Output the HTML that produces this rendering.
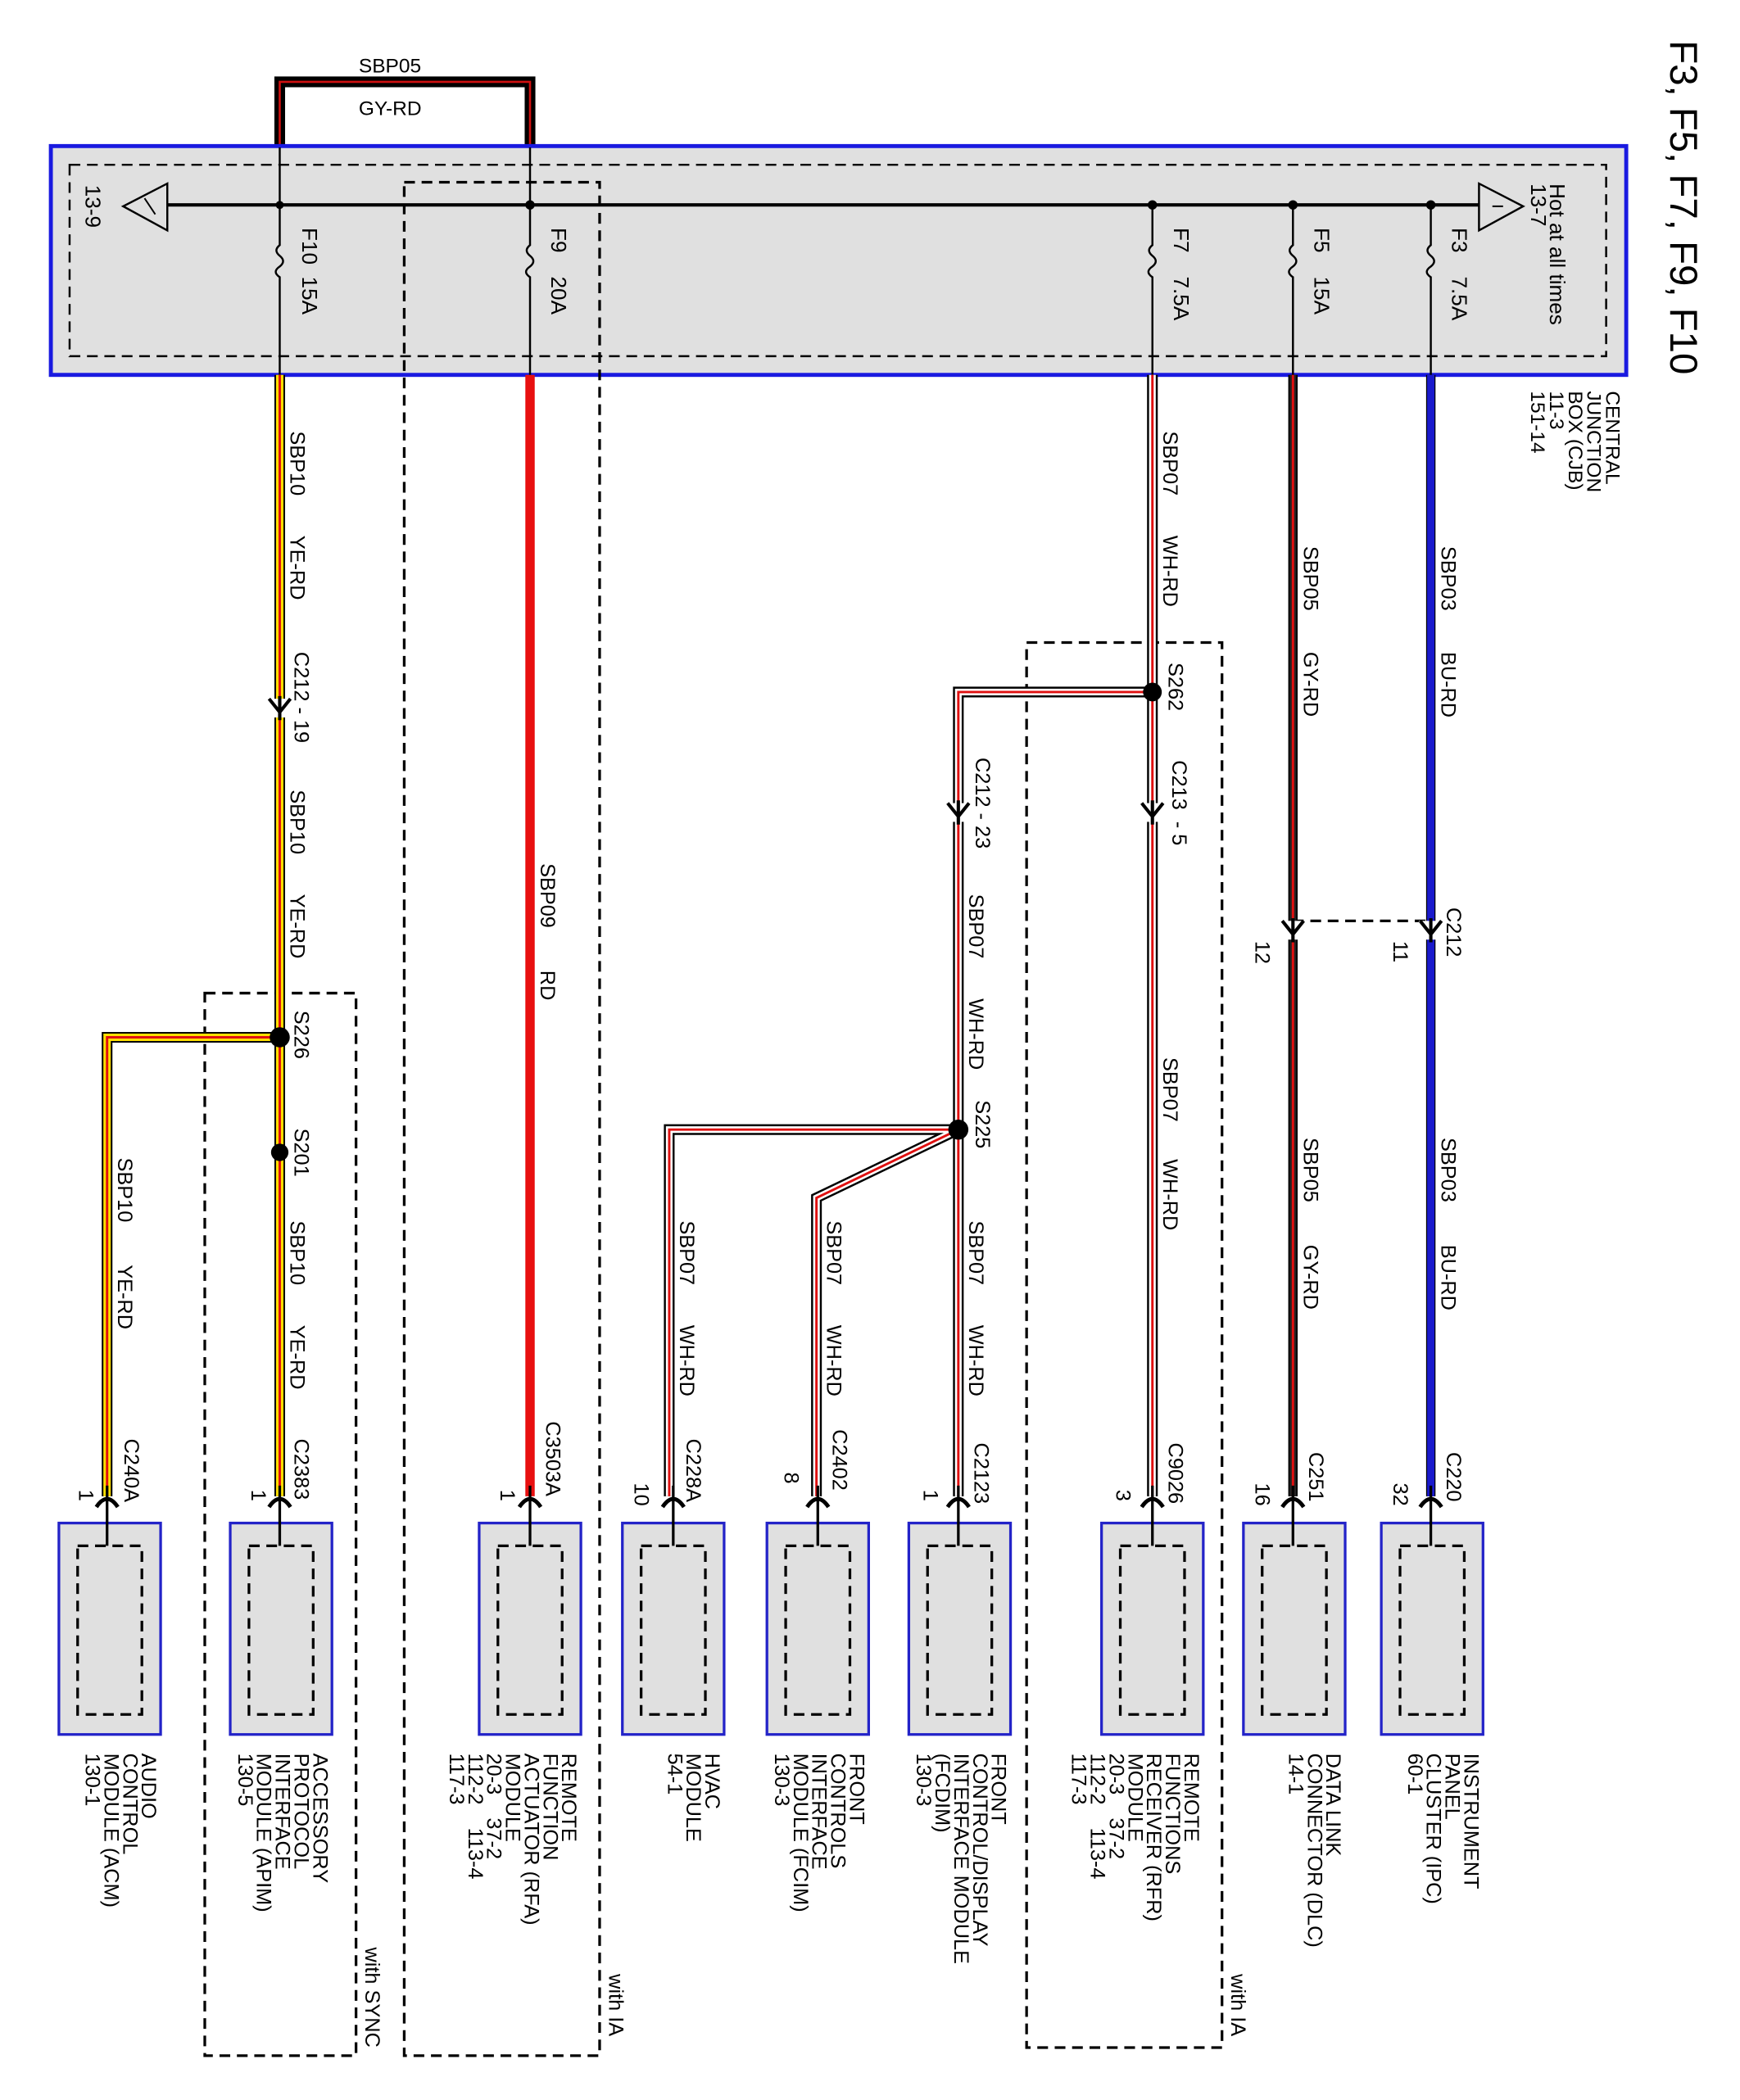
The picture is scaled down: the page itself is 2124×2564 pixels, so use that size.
<!DOCTYPE html>
<html><head><meta charset="utf-8"><style>
html,body{margin:0;padding:0;background:#fff}
svg{display:block}
text{font-family:"Liberation Sans",Arial,sans-serif;fill:#000;white-space:pre}
.ol{fill:none;stroke:#000;stroke-width:8}
.ye{fill:none;stroke:#ffe000;stroke-width:5.5}
.wh{fill:none;stroke:#fff;stroke-width:5}
.gy{fill:none;stroke:#222;stroke-width:5}
.bu{fill:none;stroke:#1a1acc;stroke-width:5.5}
.rd{fill:none;stroke:#e01010;stroke-width:1.8}
.dash{fill:none;stroke:#000;stroke-width:2;stroke-dasharray:8 5}
.mod{fill:#e0e0e0;stroke:#2323c8;stroke-width:2}
.fork{fill:none;stroke:#000;stroke-width:2.5}
</style></head><body>
<svg width="2124" height="2564" viewBox="0 0 1300 1569" xmlns="http://www.w3.org/2000/svg" font-size="15" xml:space="preserve">
<rect width="1300" height="1569" fill="#fff"/>

<path d="M209 110 V61 H396 V110" fill="none" stroke="#000" stroke-width="8"/>
<path d="M209 110 V61 H396 V110" fill="none" stroke="#d01010" stroke-width="1.6"/>
<text x="268" y="54">SBP05</text>
<text x="268" y="86">GY-RD</text>

<rect x="38" y="109" width="1177" height="171" fill="#e0e0e0" stroke="#1a1ae0" stroke-width="3"/>
<rect x="52" y="123" width="1148" height="143" class="dash" style="stroke-width:1.5"/>
<line x1="125" y1="153" x2="1105" y2="153" stroke="#000" stroke-width="2.5"/>
<polygon points="125,137 125,172 92,154" fill="none" stroke="#000" stroke-width="1.5"/>
<line x1="108" y1="148" x2="116" y2="160" stroke="#000" stroke-width="1.2"/>
<polygon points="1105,137 1105,172 1138,154" fill="none" stroke="#000" stroke-width="1.5"/>
<line x1="1115" y1="154" x2="1123" y2="154" stroke="#000" stroke-width="1.2"/>
<g fill="#000"><circle cx="209" cy="153" r="3"/><circle cx="396" cy="153" r="3.5"/><circle cx="861" cy="153" r="3.5"/><circle cx="966" cy="153" r="3.5"/><circle cx="1069" cy="153" r="3.5"/></g>
<g fill="none" stroke="#000" stroke-width="1.5">
<path d="M209 153 V183 q-5 4 0 8 q5 4 0 8 q-6 4 0 8 V280"/>
<path d="M396 110 V183 q-5 4 0 8 q5 4 0 8 q-6 4 0 8 V280"/>
<path d="M861 153 V183 q-5 4 0 8 q5 4 0 8 q-6 4 0 8 V280"/>
<path d="M966 153 V183 q-5 4 0 8 q5 4 0 8 q-6 4 0 8 V280"/>
<path d="M1069 153 V183 q-5 4 0 8 q5 4 0 8 q-6 4 0 8 V280"/>
<line x1="209" y1="110" x2="209" y2="153"/>
</g>
<g font-size="16">
<text transform="translate(64 138) rotate(90)">13-9</text>
<text transform="translate(226 170) rotate(90)">F10  15A</text>
<text transform="translate(412 170) rotate(90)">F9    20A</text>
<text transform="translate(877 170) rotate(90)">F7    7.5A</text>
<text transform="translate(982 170) rotate(90)">F5    15A</text>
<text transform="translate(1085 170) rotate(90)">F3    7.5A</text>
<text transform="translate(1158 137) rotate(90)">Hot at all times</text>
<text transform="translate(1144 137) rotate(90)">13-7</text>
</g>
<text transform="translate(1248 30) rotate(90)" font-size="29">F3, F5, F7, F9, F10</text>
<g font-size="15">
<text transform="translate(1200 292) rotate(90)">CENTRAL</text>
<text transform="translate(1186 292) rotate(90)">JUNCTION</text>
<text transform="translate(1172 292) rotate(90)">BOX (CJB)</text>
<text transform="translate(1158 292) rotate(90)">11-3</text>
<text transform="translate(1144 292) rotate(90)">151-14</text>
</g>

<rect x="302" y="136" width="146" height="1400" class="dash"/>
<rect x="153" y="742" width="113" height="794" class="dash"/>
<rect x="767" y="480" width="146" height="1050" class="dash"/>
<path d="M966 688 H1069" class="dash"/>

<g class="ol">
<path d="M209 280 V1118"/><path d="M209 775 H80 V1118"/>
<path d="M861 280 V1118"/><path d="M861 517 H716 V1118"/>
<path d="M716 844 H500 V1118"/><path d="M716 844 L610 895 V1118"/>
<path d="M966 280 V1118" style="stroke-width:7"/>
<path d="M1069 280 V1118" style="stroke-width:7"/>
</g>
<path d="M209 280 V1118 M209 775 H80 V1118" class="ye"/>
<path d="M861 280 V1118 M861 517 H716 V1118 M716 844 H500 V1118 M716 844 L610 895 V1118" class="wh"/>
<path d="M966 280 V1118" class="gy"/>
<path d="M1069 280 V1118" class="bu"/>
<path d="M209 280 V1118 M209 775 H80 V1118 M861 280 V1118 M861 517 H716 V1118 M716 844 H500 V1118 M716 844 L610 895 V1118 M966 280 V1118" class="rd"/>
<path d="M396 280 V1118" fill="none" stroke="#e81010" stroke-width="7"/>

<g>
<rect x="200" y="522" width="18" height="14" fill="#fff"/>
<rect x="707" y="600" width="18" height="14" fill="#fff"/>
<rect x="852" y="600" width="18" height="14" fill="#fff"/>
<rect x="957" y="688" width="18" height="14" fill="#fff"/>
<rect x="1060" y="688" width="18" height="14" fill="#fff"/>
</g>
<g class="fork">
<path d="M201 522 L209 532 L217 522 M209 520 V538"/>
<path d="M708 600 L716 610 L724 600 M716 598 V616"/>
<path d="M853 600 L861 610 L869 600 M861 598 V616"/>
<path d="M958 688 L966 698 L974 688 M966 686 V704"/>
<path d="M1061 688 L1069 698 L1077 688 M1069 686 V704"/>
</g>

<g fill="#000">
<circle cx="861" cy="517" r="7"/><circle cx="716" cy="844" r="7.5"/>
<circle cx="209" cy="775" r="7.5"/><circle cx="209" cy="861" r="6.5"/>
</g>

<g>
<rect x="44" y="1138" width="76" height="158" class="mod"/>
<rect x="172" y="1138" width="76" height="158" class="mod"/>
<rect x="358" y="1138" width="76" height="158" class="mod"/>
<rect x="465" y="1138" width="76" height="158" class="mod"/>
<rect x="573" y="1138" width="76" height="158" class="mod"/>
<rect x="679" y="1138" width="76" height="158" class="mod"/>
<rect x="823" y="1138" width="76" height="158" class="mod"/>
<rect x="929" y="1138" width="76" height="158" class="mod"/>
<rect x="1032" y="1138" width="76" height="158" class="mod"/>
</g>
<g class="dash" style="stroke-width:2">
<rect x="58" y="1155" width="48" height="126"/>
<rect x="186" y="1155" width="48" height="126"/>
<rect x="372" y="1155" width="48" height="126"/>
<rect x="479" y="1155" width="48" height="126"/>
<rect x="587" y="1155" width="48" height="126"/>
<rect x="693" y="1155" width="48" height="126"/>
<rect x="837" y="1155" width="48" height="126"/>
<rect x="943" y="1155" width="48" height="126"/>
<rect x="1046" y="1155" width="48" height="126"/>
</g>
<g fill="none" stroke="#000" stroke-width="2">
<path d="M80 1110 V1155 M209 1110 V1155 M396 1110 V1155 M503 1110 V1155 M611 1110 V1155 M716 1110 V1155 M861 1110 V1155 M966 1110 V1155 M1069 1110 V1155"/>
</g>
<g class="fork" style="stroke-width:3">
<path d="M72 1126 Q80 1114 88 1126"/><path d="M201 1126 Q209 1114 217 1126"/>
<path d="M388 1126 Q396 1114 404 1126"/><path d="M495 1126 Q503 1114 511 1126"/>
<path d="M603 1126 Q611 1114 619 1126"/><path d="M708 1126 Q716 1114 724 1126"/>
<path d="M853 1126 Q861 1114 869 1126"/><path d="M958 1126 Q966 1114 974 1126"/>
<path d="M1061 1126 Q1069 1114 1077 1126"/>
</g>

<g font-size="15.5">
<text transform="translate(217 322) rotate(90)">SBP10</text>
<text transform="translate(217 400) rotate(90)">YE-RD</text>
<text transform="translate(220 487) rotate(90)">C212 - 19</text>
<text transform="translate(217 590) rotate(90)">SBP10</text>
<text transform="translate(217 668) rotate(90)">YE-RD</text>
<text transform="translate(220 755) rotate(90)">S226</text>
<text transform="translate(220 843) rotate(90)">S201</text>
<text transform="translate(217 912) rotate(90)">SBP10</text>
<text transform="translate(217 990) rotate(90)">YE-RD</text>
<text transform="translate(220 1075) rotate(90)">C2383</text>
<text transform="translate(188 1113) rotate(90)">1</text>

<text transform="translate(88 865) rotate(90)">SBP10</text>
<text transform="translate(88 945) rotate(90)">YE-RD</text>
<text transform="translate(93 1075) rotate(90)">C240A</text>
<text transform="translate(59 1113) rotate(90)">1</text>

<text transform="translate(404 645) rotate(90)">SBP09</text>
<text transform="translate(404 725) rotate(90)">RD</text>
<text transform="translate(408 1062) rotate(90)">C3503A</text>
<text transform="translate(374 1113) rotate(90)">1</text>

<text transform="translate(869 322) rotate(90)">SBP07</text>
<text transform="translate(869 400) rotate(90)">WH-RD</text>
<text transform="translate(873 495) rotate(90)">S262</text>
<text transform="translate(876 568) rotate(90)">C213  - 5</text>
<text transform="translate(869 790) rotate(90)">SBP07</text>
<text transform="translate(869 866) rotate(90)">WH-RD</text>
<text transform="translate(873 1078) rotate(90)">C9026</text>
<text transform="translate(834 1113) rotate(90)">3</text>

<text transform="translate(729 566) rotate(90)">C212 - 23</text>
<text transform="translate(724 668) rotate(90)">SBP07</text>
<text transform="translate(724 746) rotate(90)">WH-RD</text>
<text transform="translate(729 822) rotate(90)">S225</text>
<text transform="translate(724 912) rotate(90)">SBP07</text>
<text transform="translate(724 990) rotate(90)">WH-RD</text>
<text transform="translate(728 1078) rotate(90)">C2123</text>
<text transform="translate(690 1113) rotate(90)">1</text>

<text transform="translate(618 912) rotate(90)">SBP07</text>
<text transform="translate(618 990) rotate(90)">WH-RD</text>
<text transform="translate(622 1068) rotate(90)">C2402</text>
<text transform="translate(586 1100) rotate(90)">8</text>

<text transform="translate(508 912) rotate(90)">SBP07</text>
<text transform="translate(508 990) rotate(90)">WH-RD</text>
<text transform="translate(513 1075) rotate(90)">C228A</text>
<text transform="translate(474 1108) rotate(90)">10</text>

<text transform="translate(974 408) rotate(90)">SBP05</text>
<text transform="translate(974 487) rotate(90)">GY-RD</text>
<text transform="translate(938 703) rotate(90)">12</text>
<text transform="translate(974 850) rotate(90)">SBP05</text>
<text transform="translate(974 930) rotate(90)">GY-RD</text>
<text transform="translate(978 1085) rotate(90)">C251</text>
<text transform="translate(938 1108) rotate(90)">16</text>

<text transform="translate(1077 408) rotate(90)">SBP03</text>
<text transform="translate(1077 487) rotate(90)">BU-RD</text>
<text transform="translate(1081 678) rotate(90)">C212</text>
<text transform="translate(1041 703) rotate(90)">11</text>
<text transform="translate(1077 850) rotate(90)">SBP03</text>
<text transform="translate(1077 930) rotate(90)">BU-RD</text>
<text transform="translate(1081 1085) rotate(90)">C220</text>
<text transform="translate(1041 1108) rotate(90)">32</text>

<text transform="translate(273 1455) rotate(90)">with SYNC</text>
<text transform="translate(455 1475) rotate(90)">with IA</text>
<text transform="translate(920 1475) rotate(90)">with IA</text>
</g>

<g font-size="15.5">
<text transform="translate(106 1310) rotate(90)">AUDIO</text>
<text transform="translate(92 1310) rotate(90)">CONTROL</text>
<text transform="translate(78 1310) rotate(90)">MODULE (ACM)</text>
<text transform="translate(64 1310) rotate(90)">130-1</text>

<text transform="translate(234 1310) rotate(90)">ACCESSORY</text>
<text transform="translate(220 1310) rotate(90)">PROTOCOL</text>
<text transform="translate(206 1310) rotate(90)">INTERFACE</text>
<text transform="translate(192 1310) rotate(90)">MODULE (APIM)</text>
<text transform="translate(178 1310) rotate(90)">130-5</text>

<text transform="translate(420 1310) rotate(90)">REMOTE</text>
<text transform="translate(406 1310) rotate(90)">FUNCTION</text>
<text transform="translate(392 1310) rotate(90)">ACTUATOR (RFA)</text>
<text transform="translate(378 1310) rotate(90)">MODULE</text>
<text transform="translate(364 1310) rotate(90)">20-3    37-2</text>
<text transform="translate(350 1310) rotate(90)">112-2    113-4</text>
<text transform="translate(336 1310) rotate(90)">117-3</text>

<text transform="translate(527 1310) rotate(90)">HVAC</text>
<text transform="translate(513 1310) rotate(90)">MODULE</text>
<text transform="translate(499 1310) rotate(90)">54-1</text>

<text transform="translate(635 1310) rotate(90)">FRONT</text>
<text transform="translate(621 1310) rotate(90)">CONTROLS</text>
<text transform="translate(607 1310) rotate(90)">INTERFACE</text>
<text transform="translate(593 1310) rotate(90)">MODULE (FCIM)</text>
<text transform="translate(579 1310) rotate(90)">130-3</text>

<text transform="translate(741 1310) rotate(90)">FRONT</text>
<text transform="translate(727 1310) rotate(90)">CONTROL/DISPLAY</text>
<text transform="translate(713 1310) rotate(90)">INTERFACE MODULE</text>
<text transform="translate(699 1310) rotate(90)">(FCDIM)</text>
<text transform="translate(685 1310) rotate(90)">130-3</text>

<text transform="translate(885 1310) rotate(90)">REMOTE</text>
<text transform="translate(871 1310) rotate(90)">FUNCTIONS</text>
<text transform="translate(857 1310) rotate(90)">RECEIVER (RFR)</text>
<text transform="translate(843 1310) rotate(90)">MODULE</text>
<text transform="translate(829 1310) rotate(90)">20-3    37-2</text>
<text transform="translate(815 1310) rotate(90)">112-2    113-4</text>
<text transform="translate(801 1310) rotate(90)">117-3</text>

<text transform="translate(991 1310) rotate(90)">DATA LINK</text>
<text transform="translate(977 1310) rotate(90)">CONNECTOR (DLC)</text>
<text transform="translate(963 1310) rotate(90)">14-1</text>

<text transform="translate(1094 1310) rotate(90)">INSTRUMENT</text>
<text transform="translate(1080 1310) rotate(90)">PANEL</text>
<text transform="translate(1066 1310) rotate(90)">CLUSTER (IPC)</text>
<text transform="translate(1052 1310) rotate(90)">60-1</text>
</g>
</svg>
</body></html>
